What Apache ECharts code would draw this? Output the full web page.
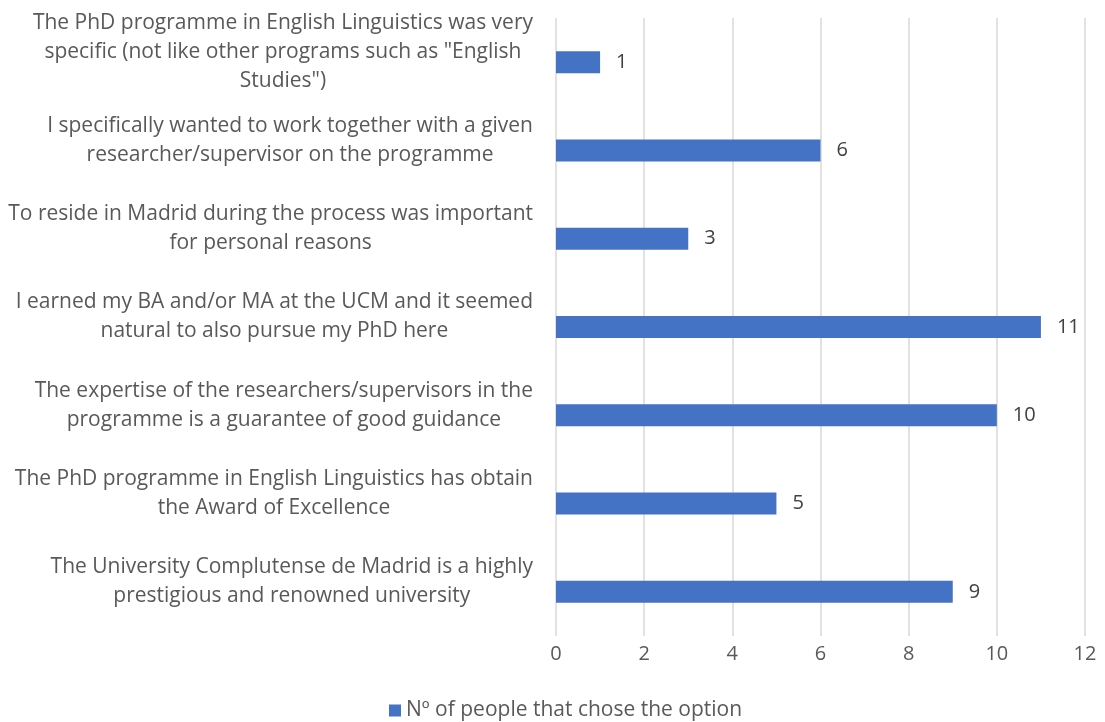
<!DOCTYPE html>
<html>
<head>
<meta charset="utf-8">
<script src="https://cdn.jsdelivr.net/npm/echarts@6/dist/echarts.min.js"></script>
<style>
  html, body { margin: 0; padding: 0; background: #fff; }
  #chart { width: 1105px; height: 722px; }
</style>
</head>
<body>
<div id="chart"></div>
<script>
// categories listed bottom to top, as the value axis draws them
const categories = [
  'The University Complutense de Madrid is a highly\nprestigious and renowned university',
  'The PhD programme in English Linguistics has obtain\nthe Award of Excellence',
  'The expertise of the researchers/supervisors in the\nprogramme is a guarantee of good guidance',
  'I earned my BA and/or MA at the UCM and it seemed\nnatural to also pursue my PhD here',
  'To reside in Madrid during the process was important\nfor personal reasons',
  'I specifically wanted to work together with a given\nresearcher/supervisor on the programme',
  'The PhD programme in English Linguistics was very\nspecific (not like other programs such as "English\nStudies")'
]
const peopleCount = [9, 5, 10, 11, 3, 6, 1]
const seriesName = 'Nº of people that chose the option'

const textColor = '#595959'
const fontFamily = '"Open Sans", Lato, sans-serif'

let chart = echarts.init(document.getElementById('chart'))
let option = {
  animation: false,
  textStyle: { fontFamily: fontFamily },
  grid: {
    left: 556,
    right: 20,
    top: 18,
    height: 618,
    containLabel: false
  },
  legend: {
    top: 695,
    left: 384,
    itemWidth: 12,
    itemHeight: 12,
    itemGap: 7,
    icon: 'rect',
    textStyle: { color: textColor, fontSize: 21, fontFamily: fontFamily },
    data: [seriesName]
  },
  xAxis: {
    type: 'value',
    min: 0,
    max: 12,
    interval: 2,
    axisLine: { show: false },
    axisTick: { show: false },
    splitLine: { lineStyle: { color: '#D9D9D9', width: 1.5 } },
    axisLabel: { color: textColor, fontSize: 20, margin: 8, fontFamily: fontFamily }
  },
  yAxis: {
    type: 'category',
    data: categories,
    axisLine: { show: false },
    axisTick: { show: false },
    axisLabel: {
      margin: 23,
      // labels sit a little above the bar centre, as in the source
      padding: [0, 0, 20, 0],
      formatter: function (val) {
        return val.split('\n').map(s => '{c|' + s + '}').join('\n')
      },
      rich: {
        c: {
          align: 'center',
          color: textColor,
          fontSize: 21,
          lineHeight: 29,
          fontFamily: fontFamily
        }
      }
    }
  },
  series: [
    {
      name: seriesName,
      type: 'bar',
      data: peopleCount,
      barWidth: 22,
      itemStyle: { color: '#4472C4' },
      label: {
        show: true,
        position: 'right',
        distance: 16,
        color: '#404040',
        fontSize: 20,
        fontFamily: fontFamily
      }
    }
  ]
}
option && chart.setOption(option)
window.addEventListener('resize', function () {
  chart.resize()
})
</script>
</body>
</html>
